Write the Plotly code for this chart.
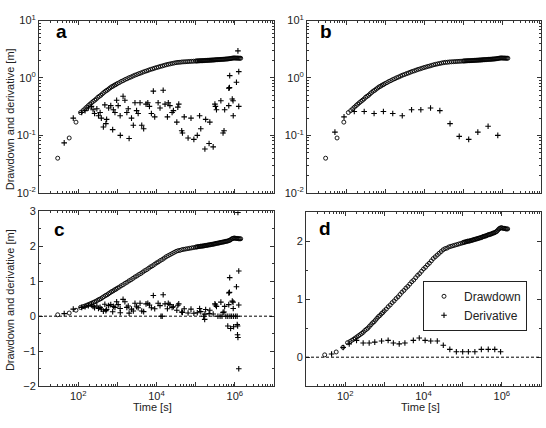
import plotly.graph_objects as go

# ---------------- data ----------------
time_dd = [30, 59, 88, 115, 132, 148, 165, 182, 200, 220,
           242, 265, 290, 318, 348, 380, 415, 455, 500, 545,
           595, 650, 710, 775, 845, 920, 1000,
           1122, 1259, 1413, 1585, 1778, 1995, 2239, 2512, 2818, 3162,
           3548, 3981, 4467, 5012, 5623, 6310, 7079, 7943, 8913, 10000,
           11220, 12590, 14130, 15850, 17780, 19950, 22390, 25120, 28180, 31620,
           35480, 39810, 44670, 50120, 56230, 63100, 70790, 79430, 89130, 100000,
           105900, 112200, 118900, 125900, 133400, 141300, 149600, 158500, 167900, 177800,
           188400, 199500, 211300, 223900, 237100, 251200, 266100, 281800, 298500, 316200,
           335000, 354800, 375800, 398100, 421700, 446700, 473200, 501200, 530900, 562300,
           595700, 631000, 668300, 707900, 749900, 794300, 841400, 891300, 944100, 1000000,
           1059000, 1122000, 1189000, 1259000, 1334000, 1413000]
drawdown = [0.04, 0.09, 0.17, 0.25, 0.27, 0.29, 0.31, 0.33, 0.35, 0.37,
            0.39, 0.41, 0.43, 0.46, 0.48, 0.50, 0.53, 0.56, 0.59, 0.61,
            0.64, 0.67, 0.70, 0.72, 0.75, 0.77, 0.80,
            0.83, 0.87, 0.90, 0.94, 0.97, 1.01, 1.04, 1.08, 1.12, 1.15,
            1.19, 1.22, 1.26, 1.30, 1.33, 1.37, 1.41, 1.44, 1.48, 1.52,
            1.55, 1.59, 1.62, 1.66, 1.70, 1.73, 1.76, 1.79, 1.82, 1.85,
            1.87, 1.88, 1.90, 1.91, 1.92, 1.93, 1.94, 1.95, 1.96, 1.97,
            1.98, 1.98, 1.99, 1.99, 2.00, 2.00, 2.00, 2.01, 2.01, 2.02,
            2.02, 2.03, 2.03, 2.04, 2.04, 2.05, 2.05, 2.06, 2.06, 2.07,
            2.08, 2.08, 2.09, 2.09, 2.10, 2.11, 2.11, 2.12, 2.12, 2.13,
            2.14, 2.14, 2.15, 2.16, 2.17, 2.19, 2.21, 2.22, 2.23, 2.23,
            2.22, 2.22, 2.22, 2.21, 2.21, 2.21]

time_der_ac = [44, 75, 123, 150, 182, 218, 240, 262, 300, 330,
               363, 390, 440, 480, 510, 533, 600, 680, 760, 790,
               870, 960, 1050, 1180, 1190, 1400, 1560, 1750, 1900, 2000,
               2300, 2560, 2820, 3100, 3400, 3800, 4200, 4700, 5400, 6000,
               6600, 7400, 8300, 9000, 11000, 12300, 13000, 14000, 14800, 16500,
               19000, 20000, 22000, 25000, 27000, 33000, 35000, 37000, 44000, 46000,
               51000, 64000, 76000, 90000, 110000, 126000, 135000, 160000, 170000, 172000,
               180000, 220000, 230000, 280000, 310000, 320000, 340000, 370000, 420000, 440000,
               470000, 500000, 530000, 550000, 590000, 660000, 660000, 700000, 700000, 730000,
               740000, 750000, 780000, 830000, 860000, 900000, 910000, 930000, 930000, 1050000,
               1100000, 1150000, 1150000, 1170000, 1180000, 1200000, 1200000, 1260000, 1260000, 1260000]
deriv_ac = [0.074, 0.20, 0.25, 0.27, 0.30, 0.32, 0.28, 0.24, 0.29, 0.22,
            0.25, 0.20, 0.14, 0.34, 0.16, 0.19, 0.30, 0.33, 0.126, 0.28,
            0.25, 0.41, 0.33, 0.22, 0.10, 0.48, 0.41, 0.25, 0.29, 0.088,
            0.20, 0.15, 0.37, 0.27, 0.24, 0.37, 0.15, 0.13, 0.35, 0.37,
            0.32, 0.24, 0.59, 0.21, 0.37, 0.30, 0.0, 0.0, 0.61, 0.35,
            0.21, 0.37, 0.33, 0.25, 0.27, 0.17, 0.31, 0.35, 0.12, 0.11,
            0.21, 0.09, 0.20, 0.085, 0.10, 0.22, 0.13, 0.0, -0.09, 0.058,
            0.19, 0.072, 0.17, 0.063, 0.35, 0.32, 0.28, 0.0, 0.0, 0.40,
            0.0, 0.11, 0.12, 0.28, 0.0, 0.0, -0.28, 0.66, 0.33, 0.68,
            1.10, 0.0, -0.35, 0.0, 0.43, 0.40, 0.22, 0.0, -0.30, 0.0,
            0.84, 0.0, -0.24, -0.53, -0.28, 2.96, -0.61, 1.29, 0.32, -1.5]

time_der_b = [52, 89, 163, 293, 525, 910, 1580, 2770, 4800, 8300,
              14700, 25500, 46500, 80000, 140000, 240000, 440000, 780000]
deriv_b = [0.114, 0.21, 0.26, 0.26, 0.24, 0.26, 0.24, 0.22, 0.28, 0.28,
           0.30, 0.27, 0.16, 0.096, 0.085, 0.114, 0.144, 0.10]

time_der_d = [45, 89, 127, 195, 288, 410, 570, 850, 1250, 1700,
              2400, 3350, 5500, 7800, 11000, 15300, 22500, 32000, 47000, 69000,
              100000, 140000, 205000, 300000, 450000, 660000, 930000]
deriv_d = [0.056, 0.167, 0.23, 0.29, 0.245, 0.245, 0.26, 0.28, 0.29, 0.245,
           0.23, 0.245, 0.29, 0.33, 0.29, 0.28, 0.28, 0.205, 0.134, 0.095,
           0.095, 0.095, 0.095, 0.134, 0.134, 0.134, 0.095]

panel_labels = ["a", "b", "c", "d"]
x_tick_vals = [1e1, 1e2, 1e3, 1e4, 1e5, 1e6, 1e7]
x_tick_text = ["", "10<sup>2</sup>", "", "10<sup>4</sup>", "", "10<sup>6</sup>", ""]
ylog_tick_vals = [0.01, 0.1, 1, 10]
ylog_tick_text = ["10<sup>-2</sup>", "10<sup>-1</sup>", "10<sup>0</sup>", "10<sup>1</sup>"]
y_title = "Drawdown and derivative [m]"
x_title = "Time [s]"
legend_names = ["Drawdown", "Derivative"]

# ---------------- figure ----------------
FONT = "Liberation Sans, Arial, sans-serif"
W, H = 546, 428
INK = "#222222"

minor_x = [k * 10 ** n for n in range(1, 7) for k in range(2, 10)]
minor_ylog = [k * 10 ** n for n in range(-2, 1) for k in range(2, 10)]

circ = dict(symbol="circle-open", size=4, color="black", line=dict(width=0.9, color="black"))
plus = dict(symbol="cross-thin-open", size=4, color="black", line=dict(width=1.1, color="black"))

fig = go.Figure()
sets = [
    ("x", "y", time_der_ac, deriv_ac, False),
    ("x2", "y2", time_der_b, deriv_b, False),
    ("x3", "y3", time_der_ac, deriv_ac, False),
    ("x4", "y4", time_der_d, deriv_d, True),
]
for xa, ya, td, dv, leg in sets:
    fig.add_trace(go.Scatter(x=time_dd, y=drawdown, mode="markers", marker=circ,
                             xaxis=xa, yaxis=ya, name=legend_names[0], showlegend=leg))
    fig.add_trace(go.Scatter(x=td, y=dv, mode="markers", marker=plus,
                             xaxis=xa, yaxis=ya, name=legend_names[1], showlegend=leg))

def px_x(a, b):
    return [a / W, b / W]

def px_y(top, bottom):
    return [1 - bottom / H, 1 - top / H]

common = dict(showline=True, linecolor="#333333", linewidth=1, mirror="allticks",
              ticks="inside", ticklen=4, tickcolor="#333333", showgrid=False, zeroline=False,
              tickfont=dict(family=FONT, size=11, color=INK))

def xaxis(dom, anchor, labels):
    d = dict(common)
    d.update(type="log", range=[1, 7], domain=dom, anchor=anchor,
             tickmode="array", tickvals=x_tick_vals, ticktext=x_tick_text,
             showticklabels=labels,
             minor=dict(tickvals=minor_x, ticks="inside", ticklen=2, tickcolor="#333333"))
    return d

def ylog(dom, anchor):
    d = dict(common)
    d.update(type="log", range=[-2, 1], domain=dom, anchor=anchor,
             tickmode="array", tickvals=ylog_tick_vals, ticktext=ylog_tick_text,
             minor=dict(tickvals=minor_ylog, ticks="inside", ticklen=2, tickcolor="#333333"))
    return d

def ylin(dom, anchor, rng):
    d = dict(common)
    d.update(type="linear", range=rng, domain=dom, anchor=anchor, dtick=1, tick0=0,
             minor=dict(dtick=0.5, ticks="inside", ticklen=2, tickcolor="#333333"))
    return d

fig.update_layout(
    width=W, height=H, autosize=False,
    margin=dict(l=0, r=0, t=0, b=0),
    paper_bgcolor="white", plot_bgcolor="white",
    font=dict(family=FONT, size=11, color=INK),
    xaxis=xaxis(px_x(39, 274), "y", False),
    yaxis=ylog(px_y(13, 191), "x"),
    xaxis2=xaxis(px_x(307, 541), "y2", False),
    yaxis2=ylog(px_y(13, 191), "x2"),
    xaxis3=xaxis(px_x(39, 274), "y3", True),
    yaxis3=ylin(px_y(210, 391), "x3", [-2, 3]),
    xaxis4=xaxis(px_x(306, 541), "y4", True),
    yaxis4=ylin(px_y(211, 391), "x4", [-0.5, 2.5]),
    legend=dict(x=527 / W, y=1 - 282 / H, xanchor="right", yanchor="top",
                bgcolor="white", bordercolor="#222222", borderwidth=1,
                font=dict(family=FONT, size=12, color=INK), itemwidth=30,
                tracegroupgap=0),
    showlegend=True,
)

for xa, ya in [("x3", "y3"), ("x4", "y4")]:
    fig.add_shape(type="line", xref=f"{xa} domain", yref=ya, x0=0, x1=1, y0=0, y1=0,
                  line=dict(color="black", width=1, dash="3px,2px"))

label_pos = [("x", "y", 0.064, 0.938), ("x2", "y2", 0.047, 0.938),
             ("x3", "y3", 0.055, 0.894), ("x4", "y4", 0.047, 0.907)]
for lab, (xa, ya, lx, ly) in zip(panel_labels, label_pos):
    fig.add_annotation(text=f"<b>{lab}</b>", xref=f"{xa} domain", yref=f"{ya} domain",
                       x=lx, y=ly, xanchor="left", yanchor="middle", showarrow=False,
                       font=dict(family=FONT, size=19, color="black"))

for yc in [115, 302]:
    fig.add_annotation(text=y_title, xref="paper", yref="paper", x=10 / W, y=1 - yc / H,
                       textangle=-90, showarrow=False, xanchor="center", yanchor="middle",
                       font=dict(family=FONT, size=11, color=INK))
for xc in [152, 420]:
    fig.add_annotation(text=x_title, xref="paper", yref="paper", x=xc / W, y=1 - 413 / H,
                       showarrow=False, xanchor="center", yanchor="middle",
                       font=dict(family=FONT, size=11, color=INK))

fig.write_html("out.html")
